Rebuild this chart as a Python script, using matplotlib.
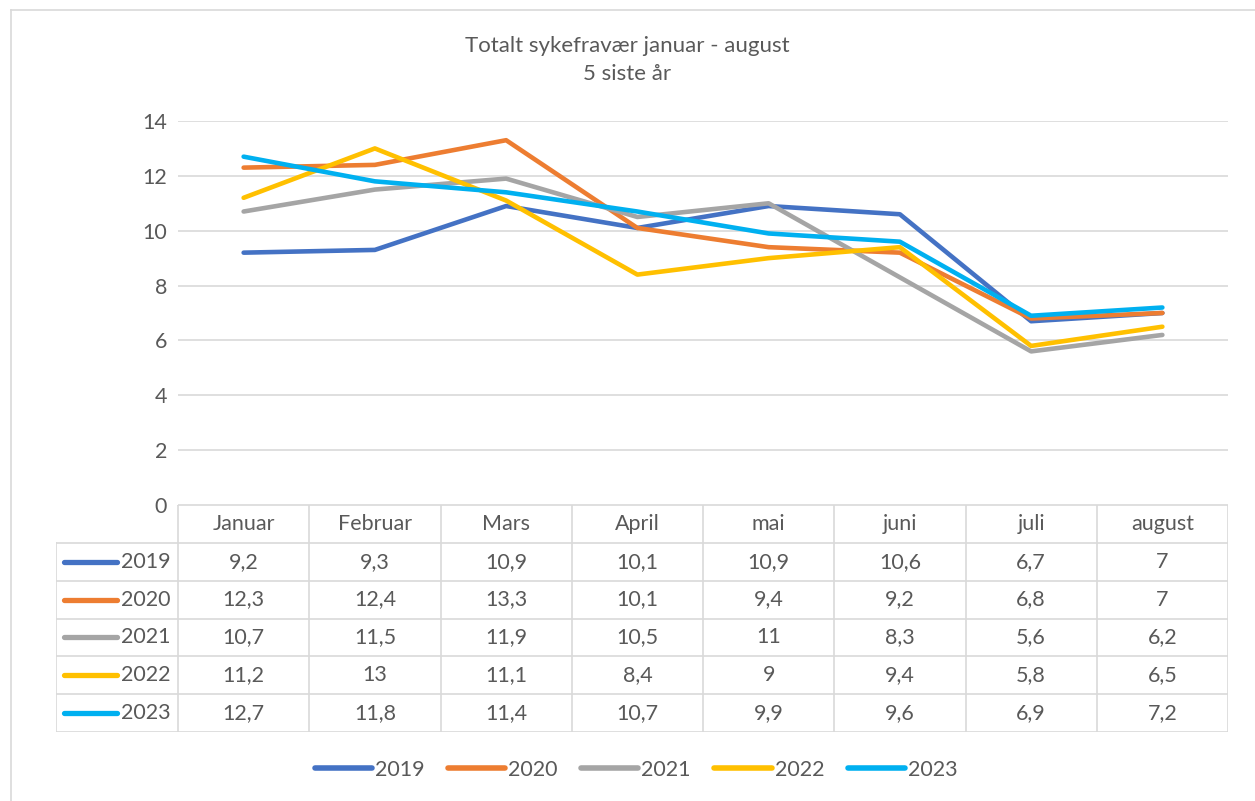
import matplotlib.pyplot as plt
from matplotlib.lines import Line2D

months = ["Januar", "Februar", "Mars", "April", "mai", "juni", "juli", "august"]
years = ["2019", "2020", "2021", "2022", "2023"]
v2019 = [9.2, 9.3, 10.9, 10.1, 10.9, 10.6, 6.7, 7]
v2020 = [12.3, 12.4, 13.3, 10.1, 9.4, 9.2, 6.8, 7]
v2021 = [10.7, 11.5, 11.9, 10.5, 11, 8.3, 5.6, 6.2]
v2022 = [11.2, 13, 11.1, 8.4, 9, 9.4, 5.8, 6.5]
v2023 = [12.7, 11.8, 11.4, 10.7, 9.9, 9.6, 6.9, 7.2]
colors = ["#4472C4", "#ED7D31", "#A5A5A5", "#FFC000", "#00B0F0"]

plt.rcParams['font.family'] = ['Lato', 'DejaVu Sans']
txt = "#595959"
grid = "#d9d9d9"
W, H = 1255, 801
fs = 15.5


def fx(px):
    return px / W


def fy(py):
    return 1 - py / H


def fmt(v):
    return f"{v:g}".replace(".", ",")


fig = plt.figure(figsize=(12.55, 8.01), dpi=100)

# outer frame
fig.add_artist(Line2D([fx(11), fx(11)], [fy(10), 0], color=grid, lw=1.2))
fig.add_artist(Line2D([fx(11), 1], [fy(10), fy(10)], color=grid, lw=1.2))

ax = fig.add_axes([fx(178), fy(505), fx(1228) - fx(178), fy(121) - fy(505)])
x = list(range(len(months)))
series = [v2019, v2020, v2021, v2022, v2023]
for yr, vals, c in zip(years, series, colors):
    ax.plot(x, vals, color=c, lw=3.3, label=yr, solid_capstyle='round', solid_joinstyle='round')
ax.set_xlim(-0.5, len(months) - 0.5)
ax.set_ylim(0, 14)
ax.set_yticks(range(0, 15, 2))
ax.set_xticks([])
ax.grid(axis='y', color=grid, lw=1.2)
ax.set_axisbelow(True)
for s in ax.spines.values():
    s.set_visible(False)
ax.tick_params(axis='y', length=0, labelsize=fs, labelcolor=txt, pad=8)

fig.text(0.5, fy(46), "Totalt sykefravær januar - august", ha='center', va='center', fontsize=16, color=txt)
fig.text(0.5, fy(74), "5 siste år", ha='center', va='center', fontsize=16, color=txt)

# data table under the chart
tb = fig.add_axes([fx(56), fy(732), fx(1228) - fx(56), fy(505) - fy(732)])
cw = 131.25
xl = -0.5 - (178 - 56) / cw
tb.set_xlim(xl, len(months) - 0.5)
tb.set_ylim(len(years) + 1, 0)
tb.axis('off')
n = len(years) + 1
tb.plot([-0.5, len(months) - 0.5], [0, 0], color=grid, lw=1.2)
for r in range(1, n + 1):
    tb.plot([xl, len(months) - 0.5], [r, r], color=grid, lw=1.2)
for k in range(len(months) + 1):
    tb.plot([k - 0.5, k - 0.5], [0, n], color=grid, lw=1.2)
tb.plot([xl, xl], [1, n], color=grid, lw=1.2)
for i, m in enumerate(months):
    tb.text(i, 0.5, m, ha='center', va='center', fontsize=fs, color=txt)
for r, (yr, vals, c) in enumerate(zip(years, series, colors)):
    yy = r + 1.5
    tb.plot([(64 - 178) / cw - 0.5, (117 - 178) / cw - 0.5], [yy, yy], color=c, lw=3.8,
            solid_capstyle='round')
    tb.text((121 - 178) / cw - 0.5, yy, yr, ha='left', va='center', fontsize=fs, color=txt)
    for i, v in enumerate(vals):
        tb.text(i, yy, fmt(v), ha='center', va='center', fontsize=fs, color=txt)

leg = fig.legend(loc='center', bbox_to_anchor=(fx(636), fy(770)), ncol=5, frameon=False,
                 fontsize=fs, labelcolor=txt, handlelength=2.65, handletextpad=0.14,
                 columnspacing=1.1)
for h in leg.get_lines():
    h.set_linewidth(4.0)
    h.set_solid_capstyle('round')

fig.savefig("out.png", dpi=100)
